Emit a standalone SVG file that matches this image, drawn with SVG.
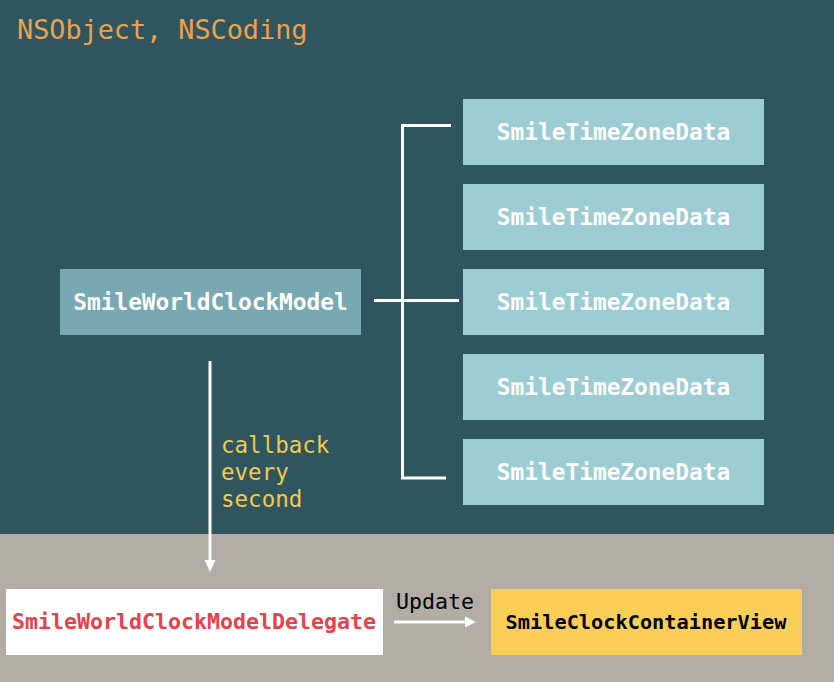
<svg xmlns="http://www.w3.org/2000/svg" width="834" height="682" viewBox="0 0 834 682">
<defs>
<style>
text{font-family:"DejaVu Sans Mono","Liberation Mono",monospace}
.tz rect{fill:#9DCDD4}
.tz text{fill:#FFFFFF;font-size:22.8px;font-weight:bold;text-anchor:middle}
.ln{stroke:#FFFFFF;stroke-width:3;fill:none}
</style>
</defs>
<rect x="0" y="0" width="834" height="534" fill="#2F565E"/>
<rect x="0" y="534" width="834" height="148" fill="#B3ACA4"/>
<text x="17" y="39" font-size="26.8" fill="#F0A04B">NSObject, NSCoding</text>

<g id="connectors">
<path class="ln" d="M451,125.5 H402.5 V478 H446"/>
<path class="ln" d="M374,300.5 H459"/>
<path class="ln" d="M210,361 V560" stroke-width="2.5"/>
<path d="M204.5,560 L215.5,560 L210,572 Z" fill="#FFFFFF"/>
<path class="ln" d="M394,622 H466" stroke-width="2.5"/>
<path d="M465,616.5 L476,622 L465,627.5 Z" fill="#FFFFFF"/>
<g fill="#F3C94C" font-size="22.5">
<text x="221" y="453">callback</text>
<text x="221" y="480">every</text>
<text x="221" y="507">second</text>
</g>
<text x="396" y="609" font-size="21.6" fill="#000000">Update</text>
</g>

<g id="model">
<rect x="60" y="269" width="301" height="66" fill="#78A8B2"/>
<text x="210.5" y="310" font-size="22.8" font-weight="bold" fill="#FFFFFF" text-anchor="middle">SmileWorldClockModel</text>
</g>

<g id="tz1" class="tz"><rect x="463" y="99" width="301" height="66"/><text x="613.5" y="140">SmileTimeZoneData</text></g>
<g id="tz2" class="tz"><rect x="463" y="184" width="301" height="66"/><text x="613.5" y="225">SmileTimeZoneData</text></g>
<g id="tz3" class="tz"><rect x="463" y="269" width="301" height="66"/><text x="613.5" y="310">SmileTimeZoneData</text></g>
<g id="tz4" class="tz"><rect x="463" y="354" width="301" height="66"/><text x="613.5" y="395">SmileTimeZoneData</text></g>
<g id="tz5" class="tz"><rect x="463" y="439" width="301" height="66"/><text x="613.5" y="480">SmileTimeZoneData</text></g>

<g id="delegate">
<rect x="6" y="589" width="377" height="66" fill="#FFFFFF"/>
<text x="194" y="629" font-size="21.6" font-weight="bold" fill="#E8404A" text-anchor="middle">SmileWorldClockModelDelegate</text>
</g>

<g id="container">
<rect x="491" y="589" width="311" height="66" fill="#F8CE57"/>
<text x="646" y="629" font-size="20.3" font-weight="bold" fill="#000000" text-anchor="middle">SmileClockContainerView</text>
</g>
</svg>
